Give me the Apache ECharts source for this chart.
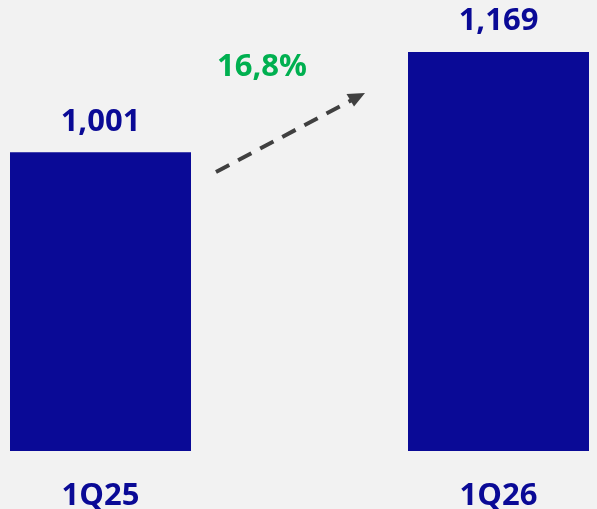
<!DOCTYPE html>
<html>
<head>
<meta charset="utf-8">
<script src="https://cdn.jsdelivr.net/npm/echarts@6/dist/echarts.min.js"></script>
<style>
  html, body { margin: 0; padding: 0; background: #f2f2f2; }
  #chart { width: 597px; height: 509px; }
</style>
</head>
<body>
<div id="chart"></div>
<script>
const quarters = ['1Q25', '1Q26'];
const values = [1001, 1169];
const growthLabel = '16,8%';

const chartDom = document.getElementById('chart');
const myChart = echarts.init(chartDom);

const fmt = v => String(v).replace(/\B(?=(\d{3})+(?!\d))/g, ',');

const blue = '#0a0a96';

const option = {
    backgroundColor: '#f2f2f2',
    textStyle: { fontFamily: 'Open Sans' },
    // wide grid so the two category centres land at x≈100 and x≈498
    grid: {
        left: -98.5,
        right: -100.5,
        top: 52,
        bottom: 58,
        outerBoundsMode: 'none'
    },
    xAxis: {
        type: 'category',
        data: quarters,
        axisLine: { show: false },
        axisTick: { show: false },
        axisLabel: {
            margin: 30,
            color: blue,
            fontSize: 31,
            fontWeight: 'bold',
            fontFamily: 'Open Sans'
        }
    },
    yAxis: {
        type: 'value',
        min: 500,
        max: 1169,
        show: false,
        splitLine: { show: false }
    },
    series: [
        {
            type: 'bar',
            data: values,
            barWidth: 181,
            itemStyle: { color: blue },
            label: {
                show: true,
                position: 'top',
                distance: 15,
                color: blue,
                fontSize: 31,
                fontWeight: 'bold',
                fontFamily: 'Open Sans',
                formatter: p => fmt(p.value)
            }
        }
    ],
    graphic: [
        {
            type: 'line',
            shape: { x1: 216, y1: 172, x2: 352, y2: 100 },
            style: { stroke: '#404040', lineWidth: 4, lineDash: [15, 10] }
        },
        {
            type: 'polygon',
            shape: { points: [[365, 93], [346.5, 94], [354, 106.5]] },
            style: { fill: '#404040' }
        },
        {
            type: 'text',
            left: 217,
            top: 52,
            style: {
                text: growthLabel,
                fill: '#00b050',
                font: 'bold 31px "Open Sans"'
            }
        }
    ]
};

myChart.setOption(option);
</script>
</body>
</html>
